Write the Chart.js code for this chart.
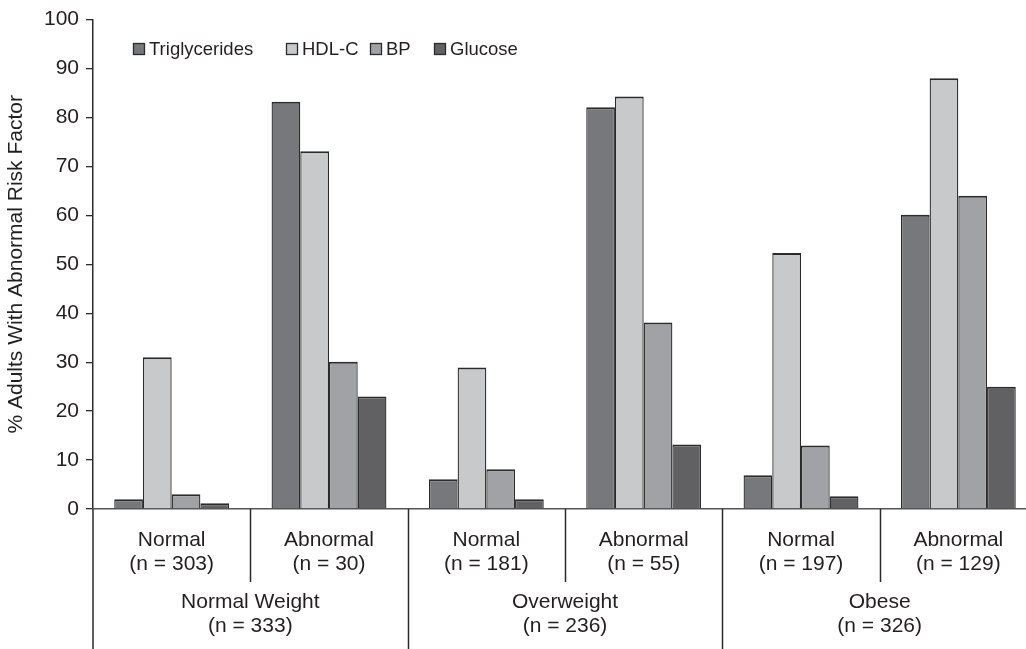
<!DOCTYPE html>
<html>
<head>
<meta charset="utf-8">
<script src="https://cdn.jsdelivr.net/npm/chart.js@4.4.1/dist/chart.umd.min.js"></script>
<style>
  html, body { margin: 0; padding: 0; background: #ffffff; overflow: hidden; }
  #wrap { position: relative; width: 1040px; height: 649px; }
</style>
</head>
<body>
<div id="wrap"><canvas id="c"></canvas></div>
<script>
// ---- Data ----
const categories = ["Normal", "Abnormal", "Normal", "Abnormal", "Normal", "Abnormal"];
const subgroupN = ["(n = 303)", "(n = 30)", "(n = 181)", "(n = 55)", "(n = 197)", "(n = 129)"];
const groups = ["Normal Weight", "Overweight", "Obese"];
const groupN = ["(n = 333)", "(n = 236)", "(n = 326)"];
const seriesNames = ["Triglycerides", "HDL-C", "BP", "Glucose"];
const triglycerides = [2.0, 83.2, 6.1, 82.1, 6.9, 60.1];
const hdlc = [31.0, 73.1, 28.9, 84.3, 52.3, 88.0];
const bp = [3.0, 30.1, 8.1, 38.1, 13.0, 64.0];
const glucose = [1.2, 23.0, 2.0, 13.2, 2.6, 25.0];
const yTicks = [0, 10, 20, 30, 40, 50, 60, 70, 80, 90, 100];
const yTitle = "% Adults With Abnormal Risk Factor";

// ---- Styles ----
const FONT = "'Liberation Sans', Arial, Helvetica, sans-serif";
const TEXT = "#231f20";
const LINE = "#2b2b2b";
const fills = ["#77787c", "#c8c9cb", "#a1a2a6", "#616163"];
const seriesValues = [triglycerides, hdlc, bp, glucose];

const datasets = seriesNames.map((name, i) => ({
  label: name,
  data: seriesValues[i],
  backgroundColor: fills[i],
  borderColor: LINE,
  borderWidth: { top: 2, left: 1.3, right: 1.3, bottom: 0 },
  borderSkipped: false,
  categoryPercentage: 0.73,
  barPercentage: 1.0
}));

// Divider lines below the category axis + left axis extension
const dividerPlugin = {
  id: 'dividers',
  afterDraw(chart) {
    const xs = chart.scales.x;
    const ctx = chart.ctx;
    const bottom = chart.height;
    ctx.save();
    ctx.strokeStyle = LINE;
    ctx.lineWidth = 1.5;
    ctx.beginPath();
    ctx.moveTo(xs.left, xs.top);
    ctx.lineTo(xs.left, bottom);
    for (let k = 1; k < categories.length; k++) {
      const px = Math.round((xs.getPixelForValue(k - 1) + xs.getPixelForValue(k)) / 2) + 0.5;
      ctx.moveTo(px, xs.top);
      ctx.lineTo(px, k % 2 === 0 ? bottom : xs.bottom);
    }
    ctx.stroke();
    ctx.restore();
  }
};

// Legend drawn inside the plot area (top-left)
const insideLegend = {
  id: 'insideLegend',
  afterDraw(chart, args, opts) {
    const ctx = chart.ctx;
    ctx.save();
    ctx.font = opts.fontSize + "px " + FONT;
    ctx.textBaseline = 'alphabetic';
    chart.data.datasets.forEach((ds, i) => {
      const bx = opts.boxX[i];
      ctx.fillStyle = ds.backgroundColor;
      ctx.fillRect(bx, opts.boxTop, opts.box, opts.box);
      ctx.strokeStyle = LINE;
      ctx.lineWidth = 1.3;
      ctx.strokeRect(bx + 0.5, opts.boxTop + 0.5, opts.box - 1, opts.box - 1);
      ctx.fillStyle = TEXT;
      ctx.fillText(ds.label, bx + opts.box + opts.gap, opts.baseline);
    });
    ctx.restore();
  }
};

new Chart(document.getElementById('c'), {
  type: 'bar',
  data: {
    labels: categories.map((c, i) => [c, subgroupN[i]]),
    datasets: datasets
  },
  plugins: [dividerPlugin, insideLegend],
  options: {
    responsive: true,
    maintainAspectRatio: false,
    animation: false,
    layout: { padding: { top: 18, right: 3, bottom: 0, left: 0 } },
    plugins: {
      legend: { display: false },
      tooltip: { enabled: false },
      insideLegend: {
        boxX: [133, 286, 370, 434],
        boxTop: 43,
        box: 12,
        gap: 4,
        baseline: 55,
        fontSize: 18.5
      }
    },
    scales: {
      y: {
        min: 0,
        max: 100,
        afterBuildTicks(scale) { scale.ticks = yTicks.map(v => ({ value: v })); },
        afterFit(scale) { scale.width = 93; },
        ticks: {
          color: TEXT,
          padding: 7,
          font: { family: FONT, size: 21 }
        },
        grid: {
          drawOnChartArea: false,
          drawTicks: true,
          tickLength: 7,
          color: LINE,
          lineWidth: 1.3
        },
        border: { display: true, color: LINE, width: 1.5 },
        title: {
          display: true,
          text: yTitle,
          color: TEXT,
          font: { family: FONT, size: 21 },
          padding: { top: 4, bottom: 0 }
        }
      },
      x: {
        weight: 0,
        offset: true,
        afterFit(scale) { scale.height = 73; },
        ticks: {
          color: TEXT,
          padding: 19,
          maxRotation: 0,
          autoSkip: false,
          font: { family: FONT, size: 21, lineHeight: 1.15 }
        },
        grid: { display: false, drawTicks: false, drawOnChartArea: false },
        border: { display: true, color: "#555555", width: 1.5 }
      },
      x2: {
        type: 'category',
        position: 'bottom',
        weight: 1,
        offset: true,
        labels: groups.map((g, i) => [g, groupN[i]]),
        afterFit(scale) { scale.height = 67; },
        ticks: {
          color: TEXT,
          padding: 8,
          maxRotation: 0,
          autoSkip: false,
          font: { family: FONT, size: 21, lineHeight: 1.15 }
        },
        grid: { display: false, drawTicks: false, drawOnChartArea: false },
        border: { display: false }
      }
    }
  }
});
</script>
</body>
</html>
